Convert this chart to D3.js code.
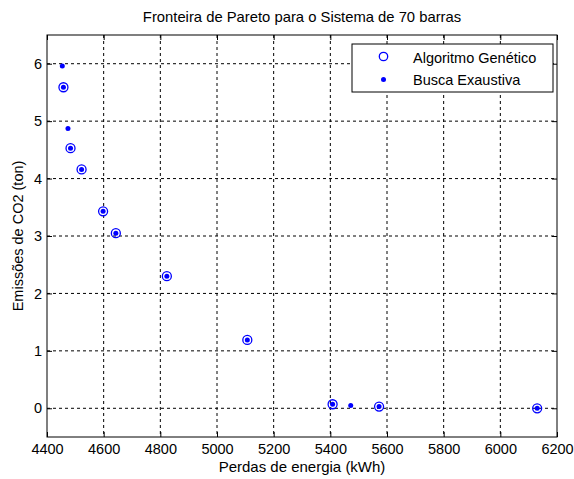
<!DOCTYPE html>
<html>
<head>
<meta charset="utf-8">
<script src="https://cdn.jsdelivr.net/npm/d3@7"></script>
<style>
  body { margin: 0; background: #fff; }
  svg { font-family: Arial, "Liberation Sans", sans-serif; }
  .grid line { stroke: #000; stroke-dasharray: 3,3; stroke-width: 1; }
</style>
</head>
<body>
<div class="chart"></div>
<script>
// data
const gaLosses = [4458, 4483, 4522, 4598, 4643, 4823, 5107, 5408, 5572, 6130];
const gaEmissions = [5.59, 4.53, 4.16, 3.43, 3.05, 2.30, 1.19, 0.07, 0.03, 0.0];
const exLosses = [4454, 4458, 4474, 4483, 4522, 4598, 4643, 4823, 5107, 5408, 5472, 5572, 6130];
const exEmissions = [5.96, 5.59, 4.87, 4.53, 4.16, 3.43, 3.05, 2.30, 1.19, 0.07, 0.05, 0.03, 0.0];
const xTicks = [4400, 4600, 4800, 5000, 5200, 5400, 5600, 5800, 6000, 6200];
const yTicks = [0, 1, 2, 3, 4, 5, 6];
const legendLabels = ["Algoritmo Genético", "Busca Exaustiva"];

const W = 574, H = 479;
const margin = {top: 35, left: 47, right: 17, bottom: 42};
const width = W - margin.left - margin.right,
      height = H - margin.top - margin.bottom;

const svg = d3.select('.chart')
  .append('svg')
  .attr('width', W)
  .attr('height', H);

const g = svg.append('g')
  .attr('transform', `translate(${margin.left},${margin.top})`);

const xScale = d3.scaleLinear().domain([4400, 6200]).range([0, width]);
const yScale = d3.scaleLinear().domain([-0.5, 6.5]).range([height, 0]);

// grid
g.append('g').attr('class', 'grid')
  .selectAll('line').data(xTicks.slice(1, -1)).enter().append('line')
  .attr('x1', d => xScale(d)).attr('x2', d => xScale(d))
  .attr('y1', 0).attr('y2', height);
g.append('g').attr('class', 'grid')
  .selectAll('line').data(yTicks).enter().append('line')
  .attr('y1', d => yScale(d)).attr('y2', d => yScale(d))
  .attr('x1', 0).attr('x2', width);

// axes (matlab style: ticks inward on all sides)
const fmt = d3.format('d');
const xAxis = d3.axisBottom(xScale).tickValues(xTicks).tickFormat(fmt).tickSizeInner(-5).tickSizeOuter(0).tickPadding(7);
const yAxis = d3.axisLeft(yScale).tickValues(yTicks).tickFormat(fmt).tickSizeInner(-5).tickSizeOuter(0).tickPadding(5);

g.append('g').attr('transform', `translate(0,${height})`).call(xAxis);
g.append('g').call(yAxis);
g.append('g').call(d3.axisTop(xScale).tickValues(xTicks).tickSizeInner(-5).tickSizeOuter(0).tickFormat(''));
g.append('g').attr('transform', `translate(${width},0)`)
  .call(d3.axisRight(yScale).tickValues(yTicks).tickSizeInner(-5).tickSizeOuter(0).tickFormat(''));

g.selectAll('.domain').remove();
g.selectAll('.tick line').attr('stroke', '#000');
g.selectAll('.tick text').attr('font-size', 14.5).attr('fill', '#000')
  .attr('font-family', 'Arial, "Liberation Sans", sans-serif');

g.append('rect')
  .attr('width', width).attr('height', height)
  .attr('fill', 'none').attr('stroke', '#000').attr('stroke-width', 1);

// points
g.selectAll('.ga').data(gaLosses).enter().append('circle')
  .attr('class', 'ga')
  .attr('cx', d => xScale(d))
  .attr('cy', (d, i) => yScale(gaEmissions[i]))
  .attr('r', 4.5)
  .attr('fill', 'none').attr('stroke', '#0000ff').attr('stroke-width', 1.3);

g.selectAll('.ex').data(exLosses).enter().append('circle')
  .attr('class', 'ex')
  .attr('cx', d => xScale(d))
  .attr('cy', (d, i) => yScale(exEmissions[i]))
  .attr('r', 2.5)
  .attr('fill', '#0000ff');

// legend
const leg = svg.append('g').attr('transform', 'translate(352,44)');
leg.append('rect').attr('width', 201).attr('height', 48)
  .attr('fill', '#fff').attr('stroke', '#000');
leg.append('circle').attr('cx', 31.5).attr('cy', 12.5).attr('r', 4.2)
  .attr('fill', 'none').attr('stroke', '#0000ff').attr('stroke-width', 1.3);
leg.append('circle').attr('cx', 31.5).attr('cy', 35.5).attr('r', 2.5).attr('fill', '#0000ff');
leg.selectAll('.lt').data(legendLabels).enter().append('text')
  .attr('x', 61).attr('y', (d, i) => 18.5 + i * 22.5)
  .attr('font-size', 14.5).attr('fill', '#000')
  .text(d => d);

// titles
svg.append('text')
  .attr('x', margin.left + width / 2).attr('y', 22)
  .attr('text-anchor', 'middle').attr('font-size', 14.8)
  .text('Fronteira de Pareto para o Sistema de 70 barras');

svg.append('text')
  .attr('x', margin.left + width / 2).attr('y', 471.5)
  .attr('text-anchor', 'middle').attr('font-size', 15)
  .text('Perdas de energia (kWh)');

svg.append('text')
  .attr('transform', `translate(23,${margin.top + height / 2}) rotate(-90)`)
  .attr('text-anchor', 'middle').attr('font-size', 14.5)
  .text('Emissões de CO2 (ton)');
</script>
</body>
</html>
